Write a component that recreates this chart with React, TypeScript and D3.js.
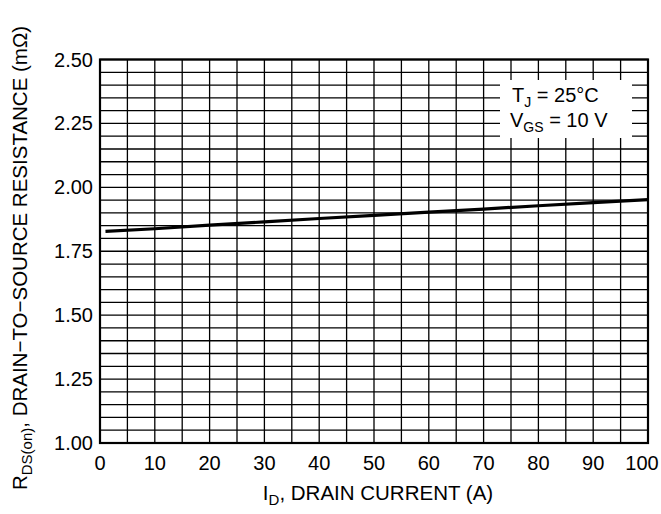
import React from 'react';
import { scaleLinear, line, range } from 'd3';

const currentA = [1, 10, 20, 30, 40, 50, 60, 70, 80, 90, 100];
const resistance = [1.828, 1.838, 1.852, 1.865, 1.878, 1.89, 1.903, 1.915, 1.928, 1.94, 1.952];
const xTicks = [0, 10, 20, 30, 40, 50, 60, 70, 80, 90, 100];
const yTicks = [1.0, 1.25, 1.5, 1.75, 2.0, 2.25, 2.5];

const W = 661;
const H = 514;
const left = 100;
const right = 648;
const top = 59.5;
const bottom = 443;
const font = '"Liberation Sans", Arial, sans-serif';

const App = () => {
  const x = scaleLinear().domain([0, 100]).range([left, right]);
  const y = scaleLinear().domain([1.0, 2.5]).range([bottom, top]);

  const vGrid = range(0, 101, 5);
  const hGrid = range(0, 31).map((i) => 1 + i * 0.05);

  const pts: [number, number][] = currentA.map((c, i) => [c, resistance[i]]);
  const path = line<[number, number]>()
    .x((d) => x(d[0]))
    .y((d) => y(d[1]))(pts);

  return (
    <svg width={W} height={H} style={{ position: 'absolute', left: 0, top: 0 }} fontFamily={font}>
      <rect width={W} height={H} fill="#fff" />
      {vGrid.map((v) => (
        <line key={'v' + v} x1={x(v)} x2={x(v)} y1={top} y2={bottom} stroke="#000" strokeWidth={1.3} />
      ))}
      {hGrid.map((v, i) => (
        <line key={'h' + i} x1={left} x2={right} y1={y(v)} y2={y(v)} stroke="#000" strokeWidth={1.3} />
      ))}
      <rect x={left} y={top} width={right - left} height={bottom - top} fill="none" stroke="#000" strokeWidth={2.2} />

      {/* legend box */}
      <rect x={500} y={80} width={132} height={58} fill="#fff" />
      <text x={512} y={102} fontSize={20}>
        T<tspan fontSize={14} dy={5}>J</tspan><tspan dy={-5}> = 25°C</tspan>
      </text>
      <text x={510} y={127} fontSize={20}>
        V<tspan fontSize={14} dy={5}>GS</tspan><tspan dy={-5}> = 10 V</tspan>
      </text>

      <path d={path ?? ''} fill="none" stroke="#000" strokeWidth={3.2} />

      {xTicks.map((t) => (
        <text key={'xt' + t} x={x(t) + (t === 100 ? -6 : 0)} y={470} fontSize={20} textAnchor="middle">
          {t}
        </text>
      ))}
      {yTicks.map((t) => (
        <text key={'yt' + t} x={93} y={y(t) + 7} fontSize={20} textAnchor="end">
          {t.toFixed(2)}
        </text>
      ))}

      <text x={378} y={500} fontSize={20.5} textAnchor="middle">
        I<tspan fontSize={15} dy={5}>D</tspan><tspan dy={-5}>, DRAIN CURRENT (A)</tspan>
      </text>
      <text transform={`translate(27, ${258}) rotate(-90)`} fontSize={20.5} textAnchor="middle">
        R<tspan fontSize={15} dy={5}>DS(on)</tspan><tspan dy={-5}>, DRAIN−TO−SOURCE RESISTANCE (mΩ)</tspan>
      </text>
    </svg>
  );
};

export default App;
